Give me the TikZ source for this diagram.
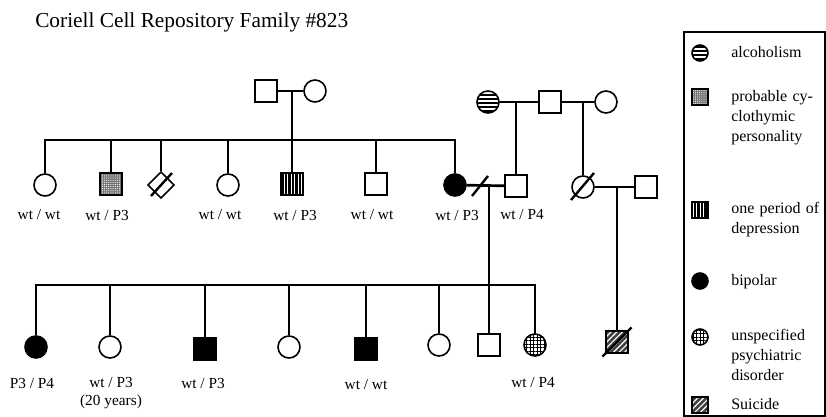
\documentclass[tikz,border=0pt]{standalone}
\usepackage{fontspec}
\setmainfont{Liberation Serif}
\usetikzlibrary{shapes.geometric,patterns.meta,calc}

\begin{document}
\begin{tikzpicture}[x=0.75pt, y=-0.75pt,
  male/.style={draw, rectangle, minimum size=16.5pt, inner sep=0pt, line width=1.2pt},
  female/.style={draw, circle, minimum size=16.5pt, inner sep=0pt, line width=1.2pt},
  unknown/.style={draw, diamond, minimum size=20pt, inner sep=0pt, line width=1.2pt},
  keysym/.style={minimum size=12pt},
  bipolar/.style={fill=black},
  alcohol/.style={preaction={fill=black}, pattern={Lines[angle=0,distance=3pt,line width=1.1pt]}, pattern color=white},
  cyclo/.style={preaction={fill=black!55}, pattern={Dots[distance=1.6pt,radius=0.45pt]}, pattern color=white},
  depress/.style={preaction={fill=black}, pattern={Lines[angle=90,distance=2.6pt,line width=0.9pt]}, pattern color=white},
  unspec/.style={pattern={Hatch[angle=0,distance=2.6pt,line width=0.7pt]}},
  suicide/.style={preaction={fill=black!75}, pattern={Lines[angle=45,distance=3pt,line width=0.9pt]}, pattern color=white},
  rel/.style={line width=2pt},
  dslash/.style={line width=1.8pt},
  gtype/.style={font=\fontsize{11.5}{14}\selectfont, inner sep=0pt, align=center},
  keytext/.style={font=\fontsize{12}{15}\selectfont, inner sep=0pt, anchor=base west, text width=90pt, align=left}
]
\useasboundingbox (0,0) rectangle (826,417);

\node[anchor=west, inner sep=0pt, font=\fontsize{16}{19}\selectfont] (title) at (35,22) {Coriell Cell Repository Family \#823};

% first generation
\node[male] (gpa) at (266,91) {};
\node[female] (gma) at (315,91) {};
\node[female, alcohol] (ggma) at (488,102) {};
\node[male] (ggpa) at (550,102) {};
\node[female] (ggmb) at (606,102) {};

% second generation
\node[female] (c1) at (45,185) {};
\node[male, cyclo] (c2) at (111,184) {};
\node[unknown] (c3) at (161,185) {};
\node[female] (c4) at (228,185) {};
\node[male, depress] (c5) at (292,184) {};
\node[male] (c6) at (376,184) {};
\node[female, bipolar] (c7) at (455,185) {};
\node[male] (h7) at (516,186) {};
\node[female] (c8) at (583,187) {};
\node[male] (h8) at (646,187) {};

% third generation
\node[female, bipolar] (g1) at (36,347) {};
\node[female] (g2) at (110,347) {};
\node[male, bipolar] (g3) at (205,349) {};
\node[female] (g4) at (289,347) {};
\node[male, bipolar] (g5) at (366,349) {};
\node[female] (g6) at (439,345) {};
\node[male] (g7) at (489,345) {};
\node[female, unspec] (g8) at (535,345) {};
\node[male, suicide] (g9) at (617,342) {};

\coordinate (m1) at (292,91);
\coordinate (m2) at (516,102);
\coordinate (m3) at (583,102);
\coordinate (m4) at (489,186);
\coordinate (m5) at (617,187);
\coordinate (dv) at (480,186);
\coordinate (sib1) at (292,140);
\coordinate (sib2) at (489,285);

\draw[rel] (gpa) -- (gma);
\draw[rel] (m1) -- (c5);
\draw[rel] (c1) |- (sib1) -| (c7);
\foreach \k in {c2,c3,c4,c6}
  \draw[rel] (\k) -- (\k |- sib1);
\draw[rel] (ggma) -- (ggpa) -- (ggmb);
\draw[rel] (m2) -- (h7);
\draw[rel] (m3) -- (c8);
\draw[rel] (c7) -- (h7);
\draw[rel] (c8) -- (h8);
\draw[rel] (m4) -- (g7);
\draw[rel] (m5) -- (g9);
\draw[rel] (g1) |- (sib2) -| (g8);
\foreach \k in {g2,g3,g4,g5,g6}
  \draw[rel] (\k) -- (\k |- sib2);

\draw[dslash] ([shift={(-8,10)}]dv) -- ([shift={(8,-10)}]dv);
\draw[dslash] ([shift={(-10,11)}]c3.center) -- ([shift={(11,-12)}]c3.center);
\draw[dslash] ([shift={(-12,13)}]c8.center) -- ([shift={(11,-14)}]c8.center);
\draw[dslash] ([shift={(-3,3)}]g9.south west) -- ([shift={(3,-3)}]g9.north east);

% genotypes
\node[gtype] (t1) at (39,215) {wt / wt};
\node[gtype] (t2) at (107,215) {wt / P3};
\node[gtype] (t4) at (220,215) {wt / wt};
\node[gtype] (t5) at (295,215) {wt / P3};
\node[gtype] (t6) at (372,215) {wt / wt};
\node[gtype] (t7) at (457,215) {wt / P3};
\node[gtype] (th7) at (522,215) {wt / P4};
\node[gtype] (u1) at (32,383) {P3 / P4};
\node[gtype] (u2) at (111,393) {wt / P3\\(20 years)};
\node[gtype] (u3) at (203,383) {wt / P3};
\node[gtype] (u5) at (366,385) {wt / wt};
\node[gtype] (u8) at (533,383) {wt / P4};

% key
\draw[line width=1pt] (684,32) rectangle (825,416);
\node[female, alcohol, keysym] (k1) at (700,53) {};
\node[male, cyclo, keysym] (k2) at (700,97) {};
\node[male, depress, keysym] (k3) at (700,210) {};
\node[female, bipolar, keysym] (k4) at (700,281) {};
\node[female, unspec, keysym] (k5) at (700,337) {};
\node[male, suicide, keysym] (k6) at (700,405) {};
\node[keytext] (kt1) at (731,58) {alcoholism};
\node[keytext] (kt2) at (731,102) {probable cy-\\clothymic\\personality};
\node[keytext] (kt3) at (731,214) {one period of\\depression};
\node[keytext] (kt4) at (731,286) {bipolar};
\node[keytext] (kt5) at (731,341) {unspecified\\psychiatric\\disorder};
\node[keytext] (kt6) at (731,410) {Suicide};
\end{tikzpicture}
\end{document}
